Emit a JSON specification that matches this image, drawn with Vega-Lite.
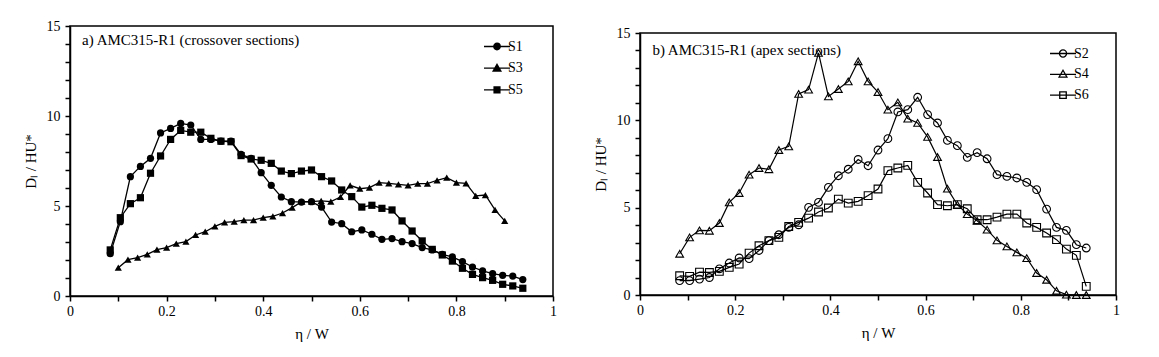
{
  "$schema": "https://vega.github.io/schema/vega-lite/v6.json",
  "background": "white",
  "padding": {"left": 22, "top": 18, "right": 5, "bottom": 5},
  "config": {
    "font": "Liberation Serif",
    "view": {"stroke": "black", "strokeWidth": 1.5},
    "axis": {"grid": false, "ticks": true, "domainColor": "black", "domainWidth": 1.5, "tickColor": "black", "tickWidth": 1.5, "tickSize": 5, "labelColor": "black", "labelFontSize": 14, "labelFont": "Liberation Serif", "titleFont": "Liberation Serif", "titleFontSize": 15, "titleFontWeight": "normal", "titleColor": "black", "labelOverlap": false, "labelFlush": false},
    "legend": {"labelFont": "Liberation Serif", "labelFontSize": 14, "labelColor": "black"}
  },
  "datasets": {
    "left": [
      {"x":0.0833,"y":2.35,"s":"S1"},{"x":0.1042,"y":4.13,"s":"S1"},{"x":0.125,"y":6.63,"s":"S1"},{"x":0.1458,"y":7.2,"s":"S1"},{"x":0.1667,"y":7.65,"s":"S1"},{"x":0.1875,"y":9.06,"s":"S1"},{"x":0.2083,"y":9.31,"s":"S1"},{"x":0.2292,"y":9.59,"s":"S1"},{"x":0.25,"y":9.5,"s":"S1"},{"x":0.2708,"y":8.7,"s":"S1"},{"x":0.2917,"y":8.7,"s":"S1"},{"x":0.3125,"y":8.6,"s":"S1"},{"x":0.3333,"y":8.6,"s":"S1"},{"x":0.3542,"y":7.87,"s":"S1"},{"x":0.375,"y":7.65,"s":"S1"},{"x":0.3958,"y":6.85,"s":"S1"},{"x":0.4167,"y":6.15,"s":"S1"},{"x":0.4375,"y":5.5,"s":"S1"},{"x":0.4583,"y":5.24,"s":"S1"},{"x":0.4792,"y":5.22,"s":"S1"},{"x":0.5,"y":5.24,"s":"S1"},{"x":0.5208,"y":4.94,"s":"S1"},{"x":0.5417,"y":4.11,"s":"S1"},{"x":0.5625,"y":4.02,"s":"S1"},{"x":0.5833,"y":3.57,"s":"S1"},{"x":0.6042,"y":3.67,"s":"S1"},{"x":0.625,"y":3.43,"s":"S1"},{"x":0.6458,"y":3.15,"s":"S1"},{"x":0.6667,"y":3.19,"s":"S1"},{"x":0.6875,"y":3.02,"s":"S1"},{"x":0.7083,"y":2.91,"s":"S1"},{"x":0.7292,"y":2.69,"s":"S1"},{"x":0.75,"y":2.56,"s":"S1"},{"x":0.7708,"y":2.31,"s":"S1"},{"x":0.7917,"y":2.17,"s":"S1"},{"x":0.8125,"y":1.91,"s":"S1"},{"x":0.8333,"y":1.61,"s":"S1"},{"x":0.8542,"y":1.39,"s":"S1"},{"x":0.875,"y":1.24,"s":"S1"},{"x":0.8958,"y":1.15,"s":"S1"},{"x":0.9167,"y":1.11,"s":"S1"},{"x":0.9375,"y":0.91,"s":"S1"},
      {"x":0.10,"y":1.57,"s":"S3"},{"x":0.12,"y":2.02,"s":"S3"},{"x":0.14,"y":2.13,"s":"S3"},{"x":0.16,"y":2.31,"s":"S3"},{"x":0.18,"y":2.57,"s":"S3"},{"x":0.20,"y":2.69,"s":"S3"},{"x":0.22,"y":2.91,"s":"S3"},{"x":0.24,"y":3.02,"s":"S3"},{"x":0.26,"y":3.39,"s":"S3"},{"x":0.28,"y":3.57,"s":"S3"},{"x":0.30,"y":3.87,"s":"S3"},{"x":0.32,"y":4.09,"s":"S3"},{"x":0.34,"y":4.13,"s":"S3"},{"x":0.36,"y":4.22,"s":"S3"},{"x":0.38,"y":4.22,"s":"S3"},{"x":0.40,"y":4.35,"s":"S3"},{"x":0.42,"y":4.43,"s":"S3"},{"x":0.44,"y":4.61,"s":"S3"},{"x":0.46,"y":4.91,"s":"S3"},{"x":0.48,"y":5.24,"s":"S3"},{"x":0.50,"y":5.24,"s":"S3"},{"x":0.52,"y":5.28,"s":"S3"},{"x":0.54,"y":5.24,"s":"S3"},{"x":0.56,"y":5.5,"s":"S3"},{"x":0.58,"y":6.15,"s":"S3"},{"x":0.60,"y":5.96,"s":"S3"},{"x":0.62,"y":6.02,"s":"S3"},{"x":0.64,"y":6.3,"s":"S3"},{"x":0.66,"y":6.26,"s":"S3"},{"x":0.68,"y":6.2,"s":"S3"},{"x":0.70,"y":6.15,"s":"S3"},{"x":0.72,"y":6.24,"s":"S3"},{"x":0.74,"y":6.24,"s":"S3"},{"x":0.76,"y":6.43,"s":"S3"},{"x":0.78,"y":6.57,"s":"S3"},{"x":0.80,"y":6.3,"s":"S3"},{"x":0.82,"y":6.26,"s":"S3"},{"x":0.84,"y":5.56,"s":"S3"},{"x":0.86,"y":5.61,"s":"S3"},{"x":0.88,"y":4.78,"s":"S3"},{"x":0.90,"y":4.17,"s":"S3"},
      {"x":0.0833,"y":2.56,"s":"S5"},{"x":0.1042,"y":4.35,"s":"S5"},{"x":0.125,"y":5.13,"s":"S5"},{"x":0.1458,"y":5.46,"s":"S5"},{"x":0.1667,"y":6.82,"s":"S5"},{"x":0.1875,"y":7.78,"s":"S5"},{"x":0.2083,"y":8.7,"s":"S5"},{"x":0.2292,"y":9.2,"s":"S5"},{"x":0.25,"y":9.1,"s":"S5"},{"x":0.2708,"y":9.1,"s":"S5"},{"x":0.2917,"y":8.76,"s":"S5"},{"x":0.3125,"y":8.6,"s":"S5"},{"x":0.3333,"y":8.57,"s":"S5"},{"x":0.3542,"y":7.8,"s":"S5"},{"x":0.375,"y":7.61,"s":"S5"},{"x":0.3958,"y":7.54,"s":"S5"},{"x":0.4167,"y":7.37,"s":"S5"},{"x":0.4375,"y":6.94,"s":"S5"},{"x":0.4583,"y":6.8,"s":"S5"},{"x":0.4792,"y":6.94,"s":"S5"},{"x":0.5,"y":7.0,"s":"S5"},{"x":0.5208,"y":6.63,"s":"S5"},{"x":0.5417,"y":6.39,"s":"S5"},{"x":0.5625,"y":5.89,"s":"S5"},{"x":0.5833,"y":5.52,"s":"S5"},{"x":0.6042,"y":4.94,"s":"S5"},{"x":0.625,"y":5.04,"s":"S5"},{"x":0.6458,"y":4.87,"s":"S5"},{"x":0.6667,"y":4.78,"s":"S5"},{"x":0.6875,"y":4.17,"s":"S5"},{"x":0.7083,"y":3.61,"s":"S5"},{"x":0.7292,"y":3.06,"s":"S5"},{"x":0.75,"y":2.59,"s":"S5"},{"x":0.7708,"y":2.28,"s":"S5"},{"x":0.7917,"y":1.94,"s":"S5"},{"x":0.8125,"y":1.54,"s":"S5"},{"x":0.8333,"y":1.2,"s":"S5"},{"x":0.8542,"y":1.02,"s":"S5"},{"x":0.875,"y":0.87,"s":"S5"},{"x":0.8958,"y":0.65,"s":"S5"},{"x":0.9167,"y":0.56,"s":"S5"},{"x":0.9375,"y":0.43,"s":"S5"}
    ],
    "right": [
      {"x":0.0833,"y":0.82,"s":"S2"},{"x":0.1042,"y":0.82,"s":"S2"},{"x":0.125,"y":0.91,"s":"S2"},{"x":0.1458,"y":1.0,"s":"S2"},{"x":0.1667,"y":1.5,"s":"S2"},{"x":0.1875,"y":1.83,"s":"S2"},{"x":0.2083,"y":2.12,"s":"S2"},{"x":0.2292,"y":2.08,"s":"S2"},{"x":0.25,"y":2.55,"s":"S2"},{"x":0.2708,"y":3.11,"s":"S2"},{"x":0.2917,"y":3.45,"s":"S2"},{"x":0.3125,"y":3.87,"s":"S2"},{"x":0.3333,"y":4.02,"s":"S2"},{"x":0.3542,"y":5.02,"s":"S2"},{"x":0.375,"y":5.3,"s":"S2"},{"x":0.3958,"y":6.16,"s":"S2"},{"x":0.4167,"y":6.83,"s":"S2"},{"x":0.4375,"y":7.2,"s":"S2"},{"x":0.4583,"y":7.76,"s":"S2"},{"x":0.4792,"y":7.4,"s":"S2"},{"x":0.5,"y":8.3,"s":"S2"},{"x":0.5208,"y":8.95,"s":"S2"},{"x":0.5417,"y":10.48,"s":"S2"},{"x":0.5625,"y":10.61,"s":"S2"},{"x":0.5833,"y":11.32,"s":"S2"},{"x":0.6042,"y":10.33,"s":"S2"},{"x":0.625,"y":9.85,"s":"S2"},{"x":0.6458,"y":8.85,"s":"S2"},{"x":0.6667,"y":8.55,"s":"S2"},{"x":0.6875,"y":7.88,"s":"S2"},{"x":0.7083,"y":8.15,"s":"S2"},{"x":0.7292,"y":7.8,"s":"S2"},{"x":0.75,"y":6.89,"s":"S2"},{"x":0.7708,"y":6.79,"s":"S2"},{"x":0.7917,"y":6.7,"s":"S2"},{"x":0.8125,"y":6.45,"s":"S2"},{"x":0.8333,"y":6.03,"s":"S2"},{"x":0.8542,"y":4.92,"s":"S2"},{"x":0.875,"y":3.87,"s":"S2"},{"x":0.8958,"y":3.7,"s":"S2"},{"x":0.9167,"y":2.88,"s":"S2"},{"x":0.9375,"y":2.69,"s":"S2"},
      {"x":0.0833,"y":2.36,"s":"S4"},{"x":0.1042,"y":3.3,"s":"S4"},{"x":0.125,"y":3.7,"s":"S4"},{"x":0.1458,"y":3.68,"s":"S4"},{"x":0.1667,"y":4.12,"s":"S4"},{"x":0.1875,"y":5.3,"s":"S4"},{"x":0.2083,"y":5.84,"s":"S4"},{"x":0.2292,"y":6.89,"s":"S4"},{"x":0.25,"y":7.27,"s":"S4"},{"x":0.2708,"y":7.2,"s":"S4"},{"x":0.2917,"y":8.3,"s":"S4"},{"x":0.3125,"y":8.51,"s":"S4"},{"x":0.3333,"y":11.51,"s":"S4"},{"x":0.3542,"y":11.76,"s":"S4"},{"x":0.375,"y":13.86,"s":"S4"},{"x":0.3958,"y":11.37,"s":"S4"},{"x":0.4167,"y":11.79,"s":"S4"},{"x":0.4375,"y":12.23,"s":"S4"},{"x":0.4583,"y":13.38,"s":"S4"},{"x":0.4792,"y":12.23,"s":"S4"},{"x":0.5,"y":11.62,"s":"S4"},{"x":0.5208,"y":10.61,"s":"S4"},{"x":0.5417,"y":11.03,"s":"S4"},{"x":0.5625,"y":10.1,"s":"S4"},{"x":0.5833,"y":9.85,"s":"S4"},{"x":0.6042,"y":9.05,"s":"S4"},{"x":0.625,"y":7.9,"s":"S4"},{"x":0.6458,"y":6.09,"s":"S4"},{"x":0.6667,"y":5.17,"s":"S4"},{"x":0.6875,"y":4.63,"s":"S4"},{"x":0.7083,"y":4.25,"s":"S4"},{"x":0.7292,"y":3.74,"s":"S4"},{"x":0.75,"y":3.13,"s":"S4"},{"x":0.7708,"y":2.78,"s":"S4"},{"x":0.7917,"y":2.44,"s":"S4"},{"x":0.8125,"y":2.11,"s":"S4"},{"x":0.8333,"y":1.26,"s":"S4"},{"x":0.8542,"y":0.87,"s":"S4"},{"x":0.875,"y":0.24,"s":"S4"},{"x":0.8958,"y":0.02,"s":"S4"},{"x":0.9167,"y":0.0,"s":"S4"},{"x":0.9375,"y":0.0,"s":"S4"},
      {"x":0.0833,"y":1.1,"s":"S6"},{"x":0.1042,"y":1.07,"s":"S6"},{"x":0.125,"y":1.31,"s":"S6"},{"x":0.1458,"y":1.29,"s":"S6"},{"x":0.1667,"y":1.35,"s":"S6"},{"x":0.1875,"y":1.58,"s":"S6"},{"x":0.2083,"y":1.77,"s":"S6"},{"x":0.2292,"y":2.4,"s":"S6"},{"x":0.25,"y":2.82,"s":"S6"},{"x":0.2708,"y":3.11,"s":"S6"},{"x":0.2917,"y":3.3,"s":"S6"},{"x":0.3125,"y":3.92,"s":"S6"},{"x":0.3333,"y":4.16,"s":"S6"},{"x":0.3542,"y":4.4,"s":"S6"},{"x":0.375,"y":4.75,"s":"S6"},{"x":0.3958,"y":4.98,"s":"S6"},{"x":0.4167,"y":5.49,"s":"S6"},{"x":0.4375,"y":5.26,"s":"S6"},{"x":0.4583,"y":5.36,"s":"S6"},{"x":0.4792,"y":5.69,"s":"S6"},{"x":0.5,"y":6.07,"s":"S6"},{"x":0.5208,"y":7.12,"s":"S6"},{"x":0.5417,"y":7.27,"s":"S6"},{"x":0.5625,"y":7.42,"s":"S6"},{"x":0.5833,"y":6.45,"s":"S6"},{"x":0.6042,"y":5.84,"s":"S6"},{"x":0.625,"y":5.17,"s":"S6"},{"x":0.6458,"y":5.11,"s":"S6"},{"x":0.6667,"y":5.17,"s":"S6"},{"x":0.6875,"y":4.94,"s":"S6"},{"x":0.7083,"y":4.31,"s":"S6"},{"x":0.7292,"y":4.31,"s":"S6"},{"x":0.75,"y":4.46,"s":"S6"},{"x":0.7708,"y":4.63,"s":"S6"},{"x":0.7917,"y":4.63,"s":"S6"},{"x":0.8125,"y":4.12,"s":"S6"},{"x":0.8333,"y":3.87,"s":"S6"},{"x":0.8542,"y":3.55,"s":"S6"},{"x":0.875,"y":3.17,"s":"S6"},{"x":0.8958,"y":2.63,"s":"S6"},{"x":0.9167,"y":2.27,"s":"S6"},{"x":0.9375,"y":0.49,"s":"S6"}
    ]
  },
  "spacing": 34,
  "hconcat": [
    {
      "width": 483,
      "height": 270,
      "data": {"name": "left"},
      "encoding": {
        "x": {"field": "x", "type": "quantitative", "scale": {"domain": [0, 1], "nice": false},
              "axis": {"title": "η / W", "values": [0,0.1,0.2,0.3,0.4,0.5,0.6,0.7,0.8,0.9,1], "labelExpr": "round(datum.value*10) % 2 == 0 ? format(datum.value, '~g') : ''", "labelPadding": 3, "titlePadding": 8}},
        "y": {"field": "y", "type": "quantitative", "scale": {"domain": [0, 15], "nice": false},
              "axis": {"title": "Dₗ / HU*", "values": [0,1,2,3,4,5,6,7,8,9,10,11,12,13,14,15], "labelExpr": "datum.value % 5 == 0 ? datum.label : ''", "labelPadding": 5, "titlePadding": 8}}
      },
      "layer": [
        {"mark": {"type": "line", "color": "black", "strokeWidth": 1.3}, "encoding": {"detail": {"field": "s"}}},
        {"mark": {"type": "point", "filled": true, "color": "black", "size": 52, "opacity": 1},
         "encoding": {"shape": {"field": "s", "type": "nominal", "scale": {"domain": ["S1","S3","S5"], "range": ["circle","triangle-up","square"]}, "legend": null}}},
        {"mark": {"type": "point", "filled": false, "color": "black", "opacity": 0},
         "encoding": {"shape": {"field": "s", "type": "nominal",
            "scale": {"domain": ["S1","S3","S5"], "range": [
              "M-1,0H3M1.5,0A0.5,0.5,0,1,1,0.5,0A0.5,0.5,0,1,1,1.5,0ZM1.33,0A0.33,0.33,0,1,1,0.67,0A0.33,0.33,0,1,1,1.33,0ZM1.16,0A0.16,0.16,0,1,1,0.84,0A0.16,0.16,0,1,1,1.16,0Z",
              "M-1,0H3M1,-0.6L1.6,0.45L0.4,0.45ZM1,-0.32L1.36,0.31L0.64,0.31ZM1,-0.08L1.15,0.19L0.85,0.19Z",
              "M-1,0H3M0.55,-0.45H1.45V0.45H0.55ZM0.72,-0.28H1.28V0.28H0.72ZM0.89,-0.11H1.11V0.11H0.89Z"]},
            "legend": {"title": null, "orient": "none", "legendX": 413, "legendY": 13, "padding": 0, "symbolSize": 169, "symbolOpacity": 1, "symbolStrokeColor": "black", "symbolStrokeWidth": 1.3, "labelOffset": 10, "rowPadding": 6.7}}}},
        {"transform": [{"filter": "datum.s == 'S1' && datum.x < 0.09"}],
         "mark": {"type": "text", "align": "left", "baseline": "middle", "fontSize": 15, "color": "black"},
         "encoding": {"x": {"datum": 0.025}, "y": {"datum": 14.2}, "text": {"value": "a) AMC315-R1 (crossover sections)"}}}
      ],
      "resolve": {"scale": {"shape": "independent"}, "legend": {"shape": "independent"}}
    },
    {
      "spacing": -2,
      "vconcat": [
        {
          "width": 476,
          "height": 1,
          "view": {"stroke": null},
          "data": {"values": []},
          "mark": "point"
        },
        {
          "width": 476,
          "height": 262,
          "data": {"name": "right"},
          "encoding": {
            "x": {"field": "x", "type": "quantitative", "scale": {"domain": [0, 1], "nice": false},
                  "axis": {"title": "η / W", "values": [0,0.1,0.2,0.3,0.4,0.5,0.6,0.7,0.8,0.9,1], "labelExpr": "round(datum.value*10) % 2 == 0 ? format(datum.value, '~g') : ''", "labelPadding": 3, "titlePadding": 8}},
            "y": {"field": "y", "type": "quantitative", "scale": {"domain": [0, 15], "nice": false},
                  "axis": {"title": "Dₗ / HU*", "values": [0,1,2,3,4,5,6,7,8,9,10,11,12,13,14,15], "labelExpr": "datum.value % 5 == 0 ? datum.label : ''", "labelPadding": 5, "titlePadding": 8}}
          },
          "layer": [
            {"mark": {"type": "line", "color": "black", "strokeWidth": 1.2}, "encoding": {"detail": {"field": "s"}}},
            {"mark": {"type": "point", "filled": false, "color": "black", "size": 60, "strokeWidth": 1.1, "opacity": 1},
             "encoding": {"shape": {"field": "s", "type": "nominal", "scale": {"domain": ["S2","S4","S6"], "range": ["circle","triangle-up","square"]}, "legend": null}}},
            {"mark": {"type": "point", "filled": false, "color": "black", "opacity": 0},
             "encoding": {"shape": {"field": "s", "type": "nominal",
                "scale": {"domain": ["S2","S4","S6"], "range": ["M-1,0H3M1.55,0A0.55,0.55,0,1,1,0.45,0A0.55,0.55,0,1,1,1.55,0Z", "M-1,0H3M1,-0.62L1.6,0.42L0.4,0.42Z", "M-1,0H3M0.5,-0.5H1.5V0.5H0.5Z"]},
                "legend": {"title": null, "orient": "none", "legendX": 409, "legendY": 13, "padding": 0, "symbolSize": 169, "symbolOpacity": 1, "symbolStrokeColor": "black", "symbolStrokeWidth": 1.3, "labelOffset": 10, "rowPadding": 5.8}}}},
            {"transform": [{"filter": "datum.s == 'S2' && datum.x < 0.09"}],
             "mark": {"type": "text", "align": "left", "baseline": "middle", "fontSize": 15, "color": "black"},
             "encoding": {"x": {"datum": 0.026}, "y": {"datum": 14.0}, "text": {"value": "b) AMC315-R1 (apex sections)"}}}
          ],
          "resolve": {"scale": {"shape": "independent"}, "legend": {"shape": "independent"}}
        }
      ]
    }
  ]
}
